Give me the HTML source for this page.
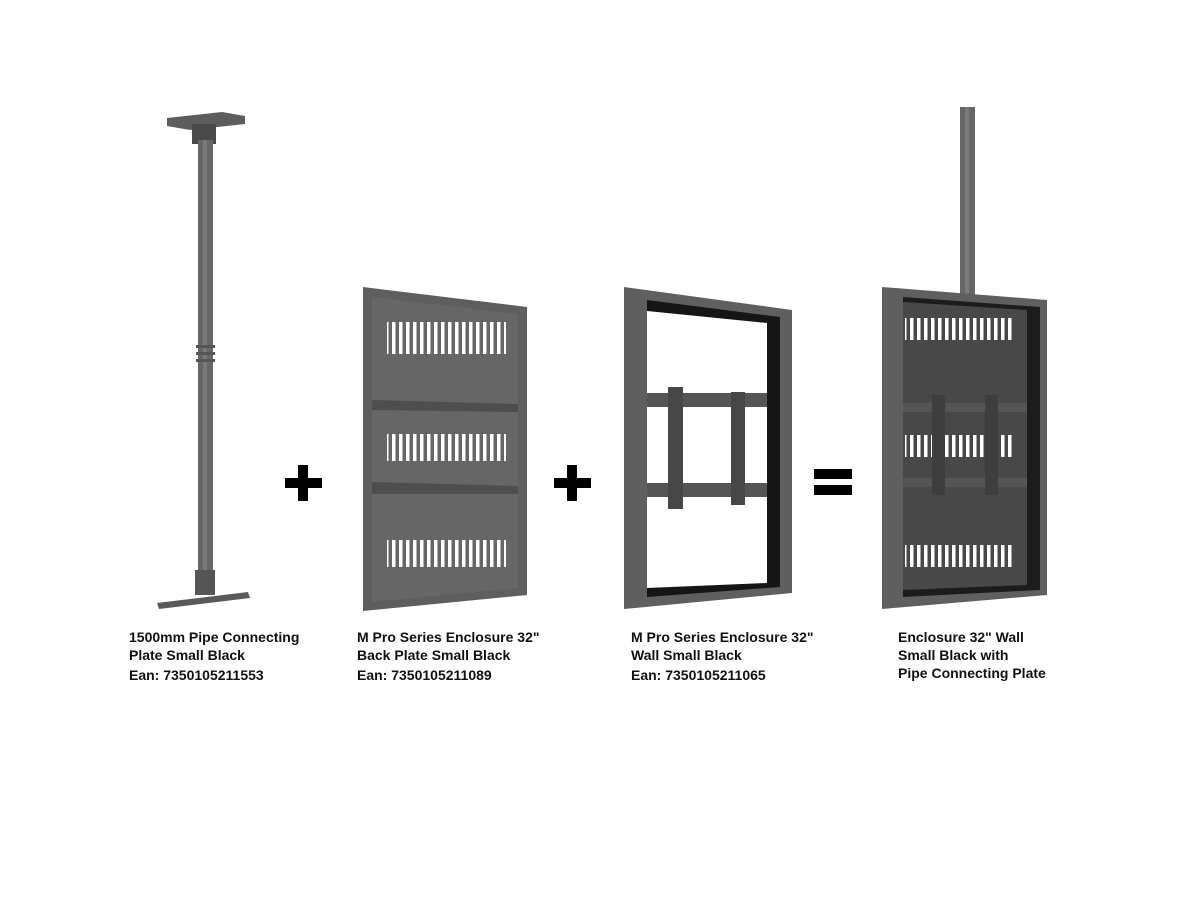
<!DOCTYPE html>
<html><head><meta charset="utf-8"><style>
html,body{margin:0;padding:0;background:#fff;width:1200px;height:900px;overflow:hidden}
svg text{font-family:"Liberation Sans",Arial,sans-serif;font-weight:bold;font-size:14px;fill:#111}
</style></head><body>
<svg width="1200" height="900" viewBox="0 0 1200 900" xmlns="http://www.w3.org/2000/svg">
<defs>
<pattern id="slots" x="0" y="0" width="7" height="30" patternUnits="userSpaceOnUse">
<rect x="0" y="0" width="3.5" height="30" fill="#fff"/>
</pattern>
</defs>
<!-- Item 1 pipe -->
<polygon points="167,118 222,112 245,116 245,124 190,130 167,126" fill="#5d5d5d"/>
<rect x="192" y="124" width="24" height="20" fill="#4a4a4a"/>
<rect x="198" y="140" width="15" height="450" fill="#666"/>
<rect x="203" y="140" width="4" height="450" fill="#7a7a7a"/>
<rect x="196" y="345" width="19" height="3" fill="#555"/>
<rect x="196" y="352" width="19" height="3" fill="#555"/>
<rect x="196" y="359" width="19" height="3" fill="#555"/>
<rect x="195" y="570" width="20" height="25" fill="#555"/>
<polygon points="157,603 248,592 250,598 159,609" fill="#5a5a5a"/>
<!-- plus 1 -->
<rect x="285" y="478" width="37" height="10" fill="#000"/>
<rect x="298" y="465" width="10" height="36" fill="#000"/>
<!-- Item 2 back plate -->
<polygon points="363,287 527,307 527,595 363,611" fill="#5e5e5e"/>
<polygon points="372,297 518,314 518,588 372,602" fill="#666"/>
<g fill="url(#slots)">
<rect x="387" y="322" width="119" height="32"/>
<rect x="387" y="434" width="119" height="27"/>
<rect x="387" y="540" width="119" height="27"/>
</g>
<polygon points="372,400 518,404 518,412 372,410" fill="#4e4e4e"/>
<polygon points="372,482 518,486 518,494 372,494" fill="#4e4e4e"/>
<!-- plus 2 -->
<rect x="554" y="478" width="37" height="10" fill="#000"/>
<rect x="567" y="465" width="10" height="36" fill="#000"/>
<!-- Item 3 wall frame -->
<polygon points="624,287 792,310 792,593 624,609" fill="#5f5f5f"/>
<polygon points="647,300 780,317 780,587 647,597" fill="#151515"/>
<polygon points="647,311 767,323 767,583 647,588" fill="#fff"/>
<rect x="647" y="393" width="120" height="14" fill="#555"/>
<rect x="647" y="483" width="120" height="14" fill="#555"/>
<rect x="668" y="387" width="15" height="122" fill="#474747"/>
<rect x="731" y="392" width="14" height="113" fill="#474747"/>
<!-- equals -->
<rect x="814" y="469" width="38" height="10" fill="#000"/>
<rect x="814" y="485" width="38" height="10" fill="#000"/>
<!-- Item 4 combined -->
<rect x="960" y="107" width="15" height="190" fill="#666"/>
<rect x="965" y="107" width="4" height="190" fill="#7a7a7a"/>
<polygon points="882,287 1047,300 1047,595 882,609" fill="#5f5f5f"/>
<polygon points="903,297 1040,307 1040,590 903,597" fill="#1c1c1c"/>
<polygon points="903,302 1027,310 1027,585 903,590" fill="#484848"/>
<g fill="url(#slots)">
<rect x="905" y="318" width="110" height="22"/>
<rect x="905" y="435" width="110" height="22"/>
<rect x="905" y="545" width="110" height="22"/>
</g>
<rect x="903" y="403" width="124" height="9" fill="#555"/>
<rect x="903" y="478" width="124" height="9" fill="#555"/>
<rect x="932" y="395" width="13" height="100" fill="#3e3e3e"/>
<rect x="985" y="395" width="13" height="100" fill="#3e3e3e"/>
<!-- labels -->
<text x="129" y="642">1500mm Pipe Connecting</text>
<text x="129" y="660">Plate Small Black</text>
<text x="129" y="680">Ean: 7350105211553</text>
<text x="357" y="642">M Pro Series Enclosure 32"</text>
<text x="357" y="660">Back Plate Small Black</text>
<text x="357" y="680">Ean: 7350105211089</text>
<text x="631" y="642">M Pro Series Enclosure 32"</text>
<text x="631" y="660">Wall Small Black</text>
<text x="631" y="680">Ean: 7350105211065</text>
<text x="898" y="642">Enclosure 32" Wall</text>
<text x="898" y="660">Small Black with</text>
<text x="898" y="678">Pipe Connecting Plate</text>
</svg>
</body></html>
